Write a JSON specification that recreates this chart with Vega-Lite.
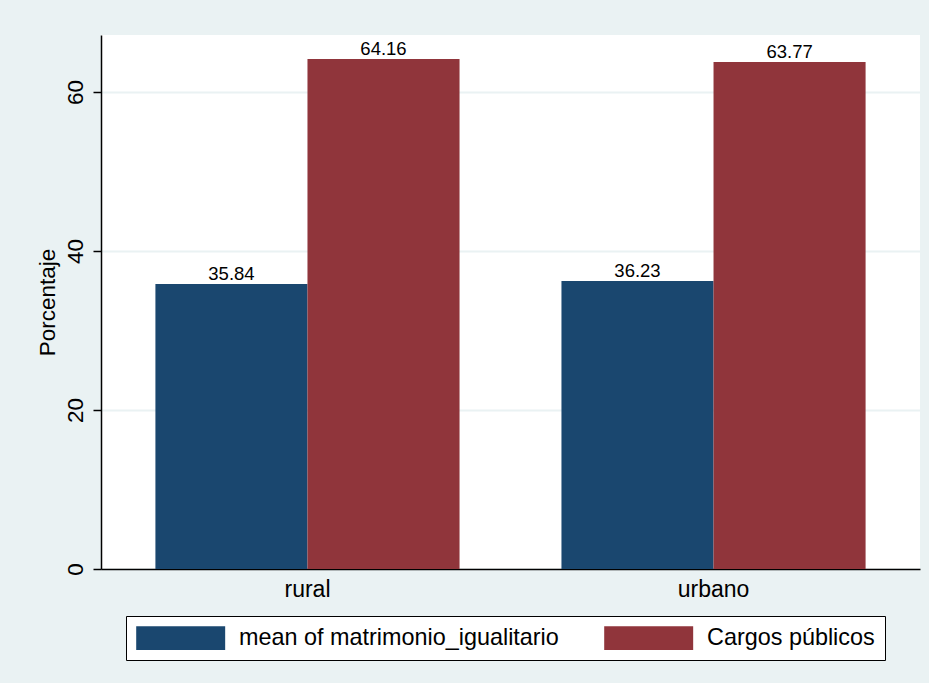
{
  "$schema": "https://vega.github.io/schema/vega-lite/v6.json",
  "width": 819,
  "height": 534,
  "autosize": {"type": "none"},
  "padding": {"left": 101, "top": 35, "right": 9, "bottom": 114},
  "background": "#EAF2F3",
  "config": {
    "view": {"fill": "white", "stroke": null},
    "font": "Liberation Sans"
  },
  "data": {
    "values": [
      {"area": "rural", "serie": "mean of matrimonio_igualitario", "valor": 35.84},
      {"area": "rural", "serie": "Cargos públicos", "valor": 64.16},
      {"area": "urbano", "serie": "mean of matrimonio_igualitario", "valor": 36.23},
      {"area": "urbano", "serie": "Cargos públicos", "valor": 63.77}
    ]
  },
  "encoding": {
    "x": {
      "field": "area",
      "type": "nominal",
      "title": null,
      "scale": {"paddingInner": 0.251, "paddingOuter": 0.134},
      "axis": {
        "labelAngle": 0,
        "ticks": false,
        "domainColor": "black",
        "domainWidth": 1.5,
        "labelFontSize": 23,
        "labelColor": "black",
        "labelPadding": 9,
        "grid": false
      }
    },
    "xOffset": {
      "field": "serie",
      "type": "nominal",
      "scale": {
        "domain": ["mean of matrimonio_igualitario", "Cargos públicos"],
        "paddingInner": 0,
        "paddingOuter": 0
      }
    },
    "y": {
      "field": "valor",
      "type": "quantitative",
      "scale": {"domain": [0, 67.17], "nice": false, "zero": true},
      "axis": {
        "title": "Porcentaje",
        "values": [0, 20, 40, 60],
        "tickSize": 8,
        "tickColor": "black",
        "tickWidth": 1.5,
        "domainColor": "black",
        "domainWidth": 1.5,
        "labelAngle": 270,
        "labelAlign": "center",
        "labelBaseline": "alphabetic",
        "labelPadding": 11,
        "labelFontSize": 22.5,
        "labelColor": "black",
        "grid": true,
        "gridColor": "#EAF2F3",
        "gridWidth": 2,
        "titleFontSize": 22.5,
        "titleFontWeight": "normal",
        "titleColor": "black",
        "titlePadding": 5
      }
    }
  },
  "layer": [
    {
      "mark": {"type": "bar"},
      "encoding": {
        "color": {
          "field": "serie",
          "type": "nominal",
          "scale": {
            "domain": ["mean of matrimonio_igualitario", "Cargos públicos"],
            "range": ["#1A476F", "#90353B"]
          },
          "legend": {
            "orient": "none",
            "legendX": 25,
            "legendY": 581,
            "direction": "horizontal",
            "title": null,
            "symbolType": "M-1,-1L6.54,-1L6.54,1L-1,1Z",
            "symbolSize": 557,
            "symbolStrokeWidth": 0,
            "symbolOpacity": 1,
            "labelFontSize": 23.4,
            "labelColor": "black",
            "labelLimit": 600,
            "labelOffset": 79,
            "columnPadding": 45,
            "padding": 10,
            "strokeColor": "black",
            "fillColor": "white"
          }
        }
      }
    },
    {
      "mark": {"type": "text", "baseline": "alphabetic", "dy": -4, "fontSize": 18.5, "color": "black"},
      "encoding": {
        "text": {"field": "valor", "type": "quantitative", "format": ".2f"}
      }
    }
  ]
}
